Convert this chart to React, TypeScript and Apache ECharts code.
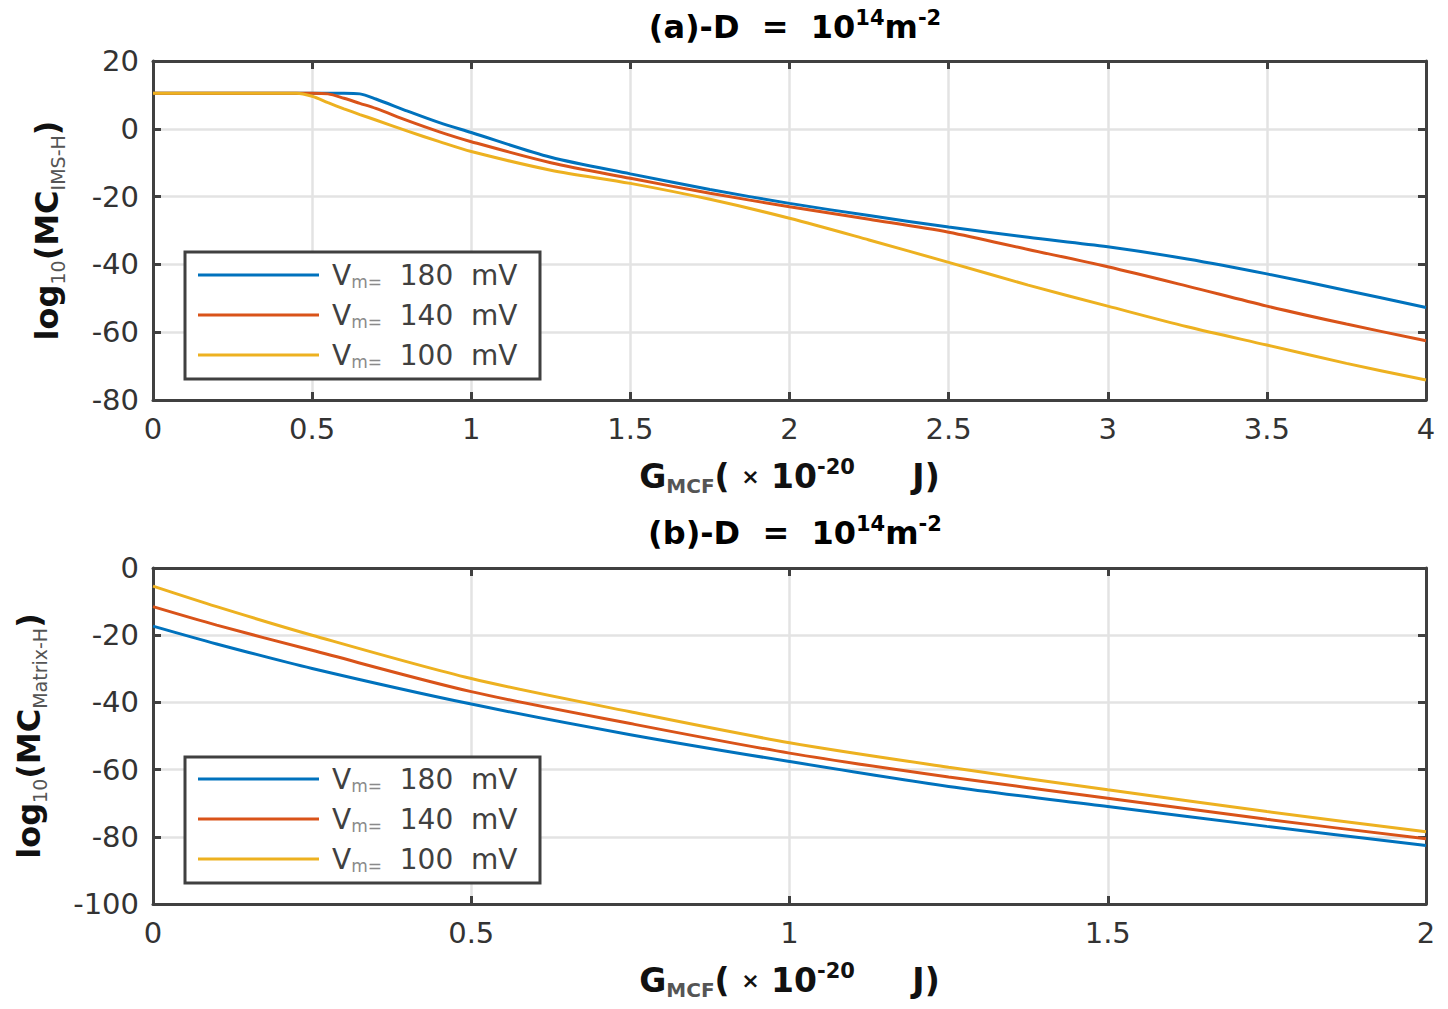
import React, { useEffect, useRef } from "react";
import * as echarts from "echarts";

// Legend names (V_m values, mV)
const seriesNames = ["180", "140", "100"];
const colors = ["#0072BD", "#D95319", "#EDB120"];

// Panel (a): log10(MC_IMS-H) vs G_MCF (x 10^-20 J)
const xTop = [0, 0.25, 0.45, 0.5, 0.55, 0.6, 0.65, 0.7, 0.8, 0.9, 1.0, 1.25, 1.5, 1.75, 2.0, 2.25, 2.5, 2.75, 3.0, 3.25, 3.5, 3.75, 4.0];
const topV180 = [10.5, 10.5, 10.5, 10.5, 10.5, 10.5, 10.3, 8.8, 5.2, 1.8, -1.1, -8.4, -13.3, -17.9, -22.0, -25.6, -29.0, -32.0, -34.8, -38.4, -42.8, -47.7, -52.7];
const topV140 = [10.5, 10.5, 10.5, 10.5, 10.3, 9.0, 7.5, 6.0, 2.4, -0.9, -3.8, -10.0, -14.6, -19.0, -23.0, -26.7, -30.5, -35.6, -40.7, -46.4, -52.3, -57.6, -62.5];
const topV100 = [10.5, 10.5, 10.5, 9.6, 7.7, 5.9, 4.2, 2.6, -0.7, -3.8, -6.7, -12.2, -16.1, -20.8, -26.4, -32.8, -39.4, -46.1, -52.3, -58.4, -63.8, -69.2, -74.1];

// Panel (b): log10(MC_Matrix-H) vs G_MCF
const xBot = [0, 0.1, 0.25, 0.5, 0.75, 1.0, 1.25, 1.5, 1.75, 2.0];
const botV180 = [-17.3, -22.6, -29.9, -40.5, -49.6, -57.6, -65.0, -71.0, -76.9, -82.6];
const botV140 = [-11.5, -17.0, -24.5, -36.8, -46.3, -55.1, -62.2, -68.5, -74.8, -80.6];
const botV100 = [-5.4, -11.5, -20.0, -32.9, -42.8, -52.0, -59.3, -66.0, -72.5, -78.5];

const FONT = "DejaVu Sans";
const AXIS_COLOR = "#404040";

const titleRich = {
  t: { fontFamily: FONT, fontWeight: "bold", fontSize: 32, color: "#000", lineHeight: 40 },
  sup: { fontFamily: FONT, fontWeight: "bold", fontSize: 21, color: "#000", lineHeight: 18, verticalAlign: "top" },
};

const xNameRich = {
  g: { fontFamily: FONT, fontWeight: "bold", fontSize: 33, color: "#111", lineHeight: 40 },
  s: { fontFamily: FONT, fontWeight: "bold", fontSize: 20, color: "#555", lineHeight: 24, verticalAlign: "bottom" },
  x: { fontFamily: FONT, fontWeight: "bold", fontSize: 22, color: "#111", lineHeight: 40 },
  p: { fontFamily: FONT, fontWeight: "bold", fontSize: 21, color: "#111", lineHeight: 18, verticalAlign: "top" },
};

const yNameRich = {
  b: { fontFamily: FONT, fontWeight: "bold", fontSize: 32, color: "#111", lineHeight: 40 },
  s: { fontFamily: FONT, fontSize: 19, color: "#555", lineHeight: 24, verticalAlign: "bottom" },
};

const legendRich = {
  v: { fontFamily: FONT, fontSize: 28, color: "#404040", lineHeight: 30, padding: [0, 0, 0, 8] },
  s: { fontFamily: FONT, fontSize: 17, color: "#8a8a8a", lineHeight: 20, verticalAlign: "bottom" },
  n: { fontFamily: FONT, fontSize: 28, color: "#404040", lineHeight: 30 },
};

const xName = "{g|G}{s|MCF}{g|( }{x|×}{g| 10}{p|-20}{g|     J)}";

function makeXAxes(gridIndex: number, max: number) {
  const common = {
    gridIndex,
    type: "value",
    min: 0,
    max,
    interval: 0.5,
    axisLine: { show: true, onZero: false, lineStyle: { color: AXIS_COLOR, width: 3 } },
    axisTick: { show: true, inside: true, length: 8, lineStyle: { color: AXIS_COLOR, width: 3 } },
  };
  return [
    {
      ...common,
      position: "bottom",
      axisLabel: { show: true, fontFamily: FONT, fontSize: 29, color: "#333", margin: 14 },
      splitLine: { show: true, lineStyle: { color: "#e3e3e3", width: 2.5 } },
      name: xName,
      nameLocation: "middle",
      nameGap: 56,
      nameTextStyle: { rich: xNameRich },
    },
    {
      ...common,
      position: "top",
      axisLabel: { show: false },
      splitLine: { show: false },
    },
  ];
}

function makeYAxes(gridIndex: number, min: number, max: number, name: string, nameGap: number) {
  const common = {
    gridIndex,
    type: "value",
    min,
    max,
    interval: 20,
    axisLine: { show: true, onZero: false, lineStyle: { color: AXIS_COLOR, width: 3 } },
    axisTick: { show: true, inside: true, length: 8, lineStyle: { color: AXIS_COLOR, width: 3 } },
  };
  return [
    {
      ...common,
      position: "left",
      axisLabel: { show: true, fontFamily: FONT, fontSize: 29, color: "#333", margin: 14 },
      splitLine: { show: true, lineStyle: { color: "#e3e3e3", width: 2.5 } },
      name,
      nameLocation: "middle",
      nameRotate: 90,
      nameGap,
      nameTextStyle: { rich: yNameRich },
    },
    {
      ...common,
      position: "right",
      axisLabel: { show: false },
      splitLine: { show: false },
    },
  ];
}

function lineSeries(name: string, color: string, xs: number[], ys: number[], axisIndex: number) {
  return {
    name,
    type: "line",
    xAxisIndex: axisIndex,
    yAxisIndex: axisIndex,
    data: xs.map((x, i) => [x, ys[i]]),
    showSymbol: false,
    symbol: "none",
    smooth: 0.3,
    lineStyle: { color, width: 3 },
    itemStyle: { color },
    z: 2,
  };
}

function makeLegend(top: number) {
  return {
    data: seriesNames,
    orient: "vertical",
    left: 198,
    top,
    icon: "rect",
    itemWidth: 121,
    itemHeight: 3,
    itemGap: 11,
    padding: 0,
    selectedMode: false,
    z: 6,
    formatter: (name: string) => `{v|V}{s|m=}{n|  ${name}  mV}`,
    textStyle: { rich: legendRich },
  };
}

function buildOption() {
  return {
    animation: false,
    backgroundColor: "#fff",
    title: [
      {
        text: "{t|(a)-D  =  10}{sup|14}{t|m}{sup|-2}",
        left: 790,
        top: 2,
        textAlign: "center",
        textStyle: { rich: titleRich },
      },
      {
        text: "{t|(b)-D  =  10}{sup|14}{t|m}{sup|-2}",
        left: 790,
        top: 508,
        textAlign: "center",
        textStyle: { rich: titleRich },
      },
    ],
    grid: [
      { left: 153, top: 61, width: 1273, height: 339 },
      { left: 153, top: 568, width: 1273, height: 336 },
    ],
    xAxis: [...makeXAxes(0, 4), ...makeXAxes(1, 2)],
    yAxis: [
      ...makeYAxes(0, -80, 20, "{b|log}{s|10}{b|(MC}{s|IMS-H}{b|)}", 86),
      ...makeYAxes(1, -100, 0, "{b|log}{s|10}{b|(MC}{s|Matrix-H}{b|)}", 104),
    ],
    legend: [makeLegend(261), makeLegend(765)],
    graphic: [
      {
        type: "rect",
        z: 5,
        shape: { x: 185, y: 252, width: 355, height: 127 },
        style: { fill: "#fff", stroke: AXIS_COLOR, lineWidth: 3 },
      },
      {
        type: "rect",
        z: 5,
        shape: { x: 185, y: 757, width: 355, height: 126 },
        style: { fill: "#fff", stroke: AXIS_COLOR, lineWidth: 3 },
      },
    ],
    series: [
      lineSeries(seriesNames[0], colors[0], xTop, topV180, 0),
      lineSeries(seriesNames[1], colors[1], xTop, topV140, 0),
      lineSeries(seriesNames[2], colors[2], xTop, topV100, 0),
      lineSeries(seriesNames[0], colors[0], xBot, botV180, 2),
      lineSeries(seriesNames[1], colors[1], xBot, botV140, 2),
      lineSeries(seriesNames[2], colors[2], xBot, botV100, 2),
    ],
  };
}

export default function App() {
  const ref = useRef<HTMLDivElement>(null);
  useEffect(() => {
    document.body.style.margin = "0";
    const chart = echarts.init(ref.current as HTMLDivElement, undefined, { renderer: "svg" });
    chart.setOption(buildOption() as any);
    return () => chart.dispose();
  }, []);
  return <div ref={ref} style={{ width: 1448, height: 1009, background: "#fff" }} />;
}
